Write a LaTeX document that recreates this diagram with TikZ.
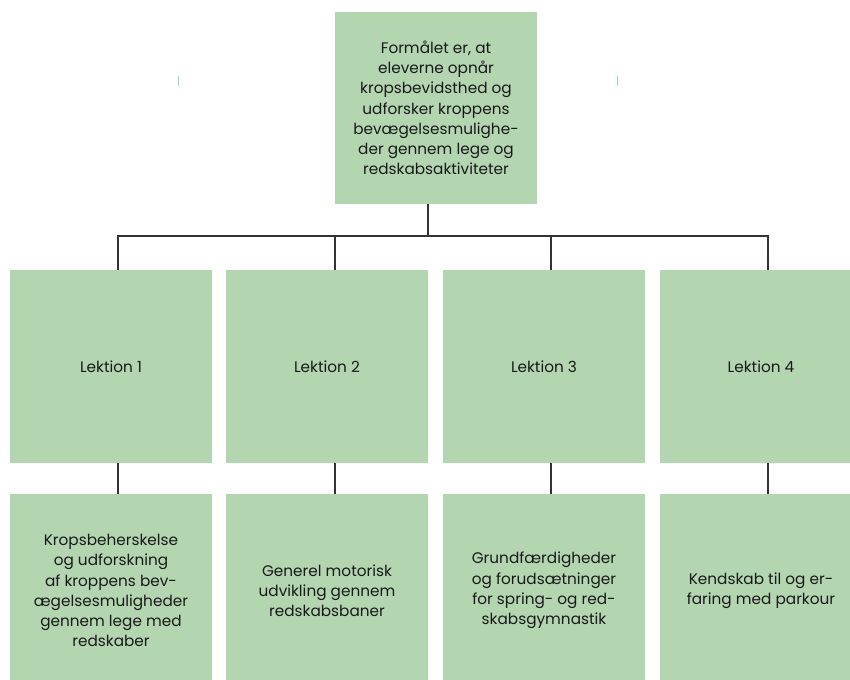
\documentclass[tikz,border=0pt]{standalone}
\usepackage{fontspec}
\setmainfont{Poppins}
\definecolor{boxgreen}{RGB}{179,214,177}
\definecolor{linegray}{RGB}{51,51,51}
\definecolor{tickteal}{RGB}{140,224,196}
\definecolor{txt}{RGB}{25,25,25}
\begin{document}
\begin{tikzpicture}[x=1pt,y=-1pt,
  box/.style={fill=boxgreen,draw=none,minimum width=202pt,inner sep=0pt,
    align=center,text=txt,font=\fontsize{15.3}{20.2}\selectfont},
  conn/.style={draw=linegray,line width=1.5pt},
  tick/.style={draw=tickteal,line width=1pt}]
\useasboundingbox (0,0) rectangle (850,679);
\clip (0,0) rectangle (850,679);
% top
\node[box,minimum height=192pt] (top) at (436,108) {Formålet er, at\\eleverne opnår\\kropsbevidsthed og\\udforsker kroppens\\bevægelsesmulighe-\\der gennem lege og\\redskabsaktiviteter};
% middle
\node[box,minimum height=193pt] (m1) at (111,366.5) {Lektion 1};
\node[box,minimum height=193pt] (m2) at (327,366.5) {Lektion 2};
\node[box,minimum height=193pt] (m3) at (544,366.5) {Lektion 3};
\node[box,minimum height=193pt] (m4) at (761,366.5) {Lektion 4};
% bottom
\node[box,minimum height=193pt] (b1) at (111,590.5) {Kropsbeherskelse\\og udforskning\\af kroppens bev-\\ægelsesmuligheder\\gennem lege med\\redskaber};
\node[box,minimum height=193pt] (b2) at (327,590.5) {Generel motorisk\\udvikling gennem\\redskabsbaner};
\node[box,minimum height=193pt] (b3) at (544,590.5) {Grundfærdigheder\\og forudsætninger\\for spring- og red-\\skabsgymnastik};
\node[box,minimum height=193pt] (b4) at (761,590.5) {Kendskab til og er-\\faring med parkour};
% connector coordinates
\coordinate (bus) at (428,236);
\coordinate (c1) at (118,236);
\coordinate (c2) at (335,236);
\coordinate (c3) at (551,236);
\coordinate (c4) at (768,236);
\draw[conn] (bus |- top.south) -- (bus);
\draw[conn,line cap=rect] (c1) -- (c4);
\foreach \i in {1,2,3,4}{
  \draw[conn] (c\i) -- (c\i |- m\i.north);
  \draw[conn] (c\i |- m\i.south) -- (c\i |- b\i.north);
}
% faint ticks
\coordinate (t1a) at (178,76); \coordinate (t1b) at (178,86);
\coordinate (t2a) at (617,76); \coordinate (t2b) at (617,86);
\draw[tick] (t1a) -- (t1b);
\draw[tick] (t2a) -- (t2b);
\end{tikzpicture}
\end{document}
